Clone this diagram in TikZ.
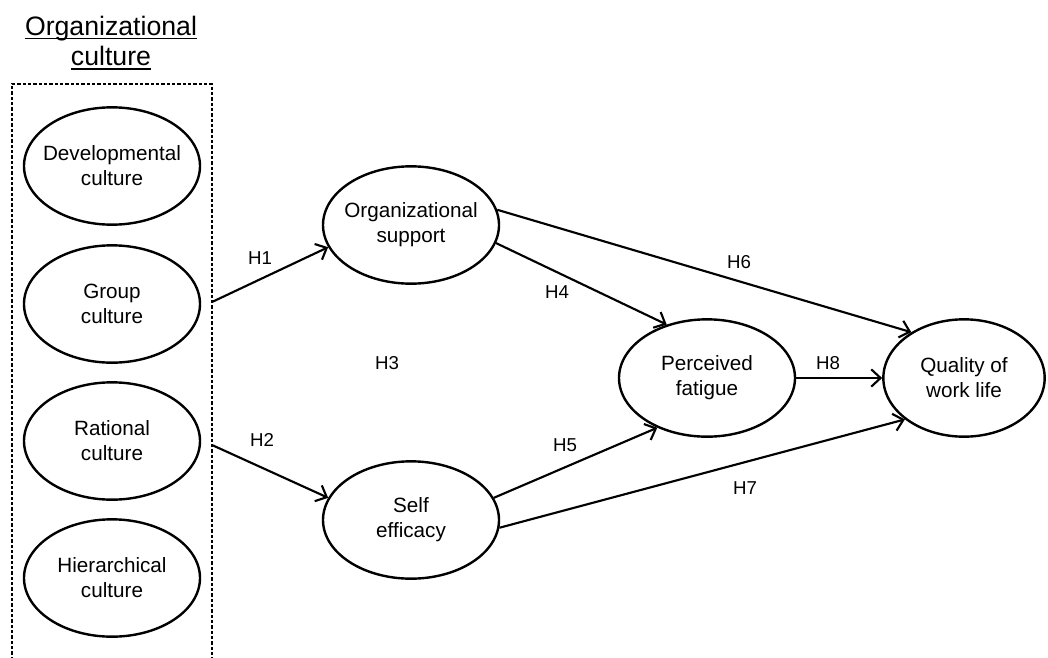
\documentclass[tikz,border=0pt]{standalone}
\usepackage{fontspec}
\setmainfont{Liberation Sans}
\usepackage{tikz}
\usetikzlibrary{shapes.geometric,arrows.meta,calc}
\tikzset{construct/.style={draw,ellipse,line width=1.8pt,inner sep=0pt,inner xsep=-25pt,
    minimum width=132pt,minimum height=88pt,align=center,font=\fontsize{15.5}{18.75}\selectfont},
    hyp/.style={font=\fontsize{14}{16}\selectfont,inner sep=0.75pt},
    heading/.style={font=\fontsize{20}{24}\selectfont,inner sep=0pt,anchor=base},
    path/.style={line width=1.6pt,-{Straight Barb[length=7pt,width=13pt,line width=1.6pt]}}}

\begin{document}
\begin{tikzpicture}[x=0.75pt,y=0.75pt,yscale=-1,xscale=1]
\useasboundingbox (0,0) rectangle (1048,657);

% Title
\node (title1) at (111,35) [heading] {Organizational};
\node (title2) at (111,65) [heading] {culture};
\draw [line width=1.3pt] ($(title1.base west)+(0,3.5)$) -- ($(title1.base east)+(0,3.5)$) ;
\draw [line width=1.3pt] ($(title2.base west)+(0,4)$) -- ($(title2.base east)+(0,4)$) ;
%Dashed box (runs past the bottom)
\draw [line width=1.6pt,dash pattern={on 2.4pt off 1.6pt}] (12,660) -- (12,84) -- (212,84) -- (212,660) ;

% Culture types
\node (dev) at (112,166) [construct] {Developmental\\culture};
\node (grp) at (112,304) [construct] {Group\\culture};
\node (rat) at (112,441) [construct] {Rational\\culture};
\node (hie) at (112,578) [construct] {Hierarchical\\culture};

% Mediators and outcome
\node (orgsup) at (411,225) [construct] {Organizational\\support};
\node (selfeff) at (411,520) [construct] {Self\\efficacy};
\node (fatigue) at (707,378) [construct] {Perceived\\fatigue};
\node (qwl) at (964,378) [construct,minimum width=121pt] {Quality of\\work life};

\coordinate (boxout1) at (212,302);
\coordinate (boxout2) at (212,445);

% Paths
\draw [path] (boxout1) -- (orgsup.195) ;
\draw [path] (boxout2) -- (selfeff.165) ;
\draw [path] (orgsup.348) -- (fatigue.127) ;
\draw [path] (orgsup.10) -- (qwl.139) ;
\draw [path] (selfeff.15) -- (fatigue.225) ;
\draw [path] (selfeff.355) -- (qwl.215) ;
\draw [path] (fatigue.east) -- (qwl.west) ;

% Text Node
\node (h1) at (260,258) [hyp] {H1};
\node (h2) at (262,440) [hyp] {H2};
\node (h3) at (387,363) [hyp] {H3};
\node (h4) at (557,292) [hyp] {H4};
\node (h5) at (565,445) [hyp] {H5};
\node (h6) at (739,262) [hyp] {H6};
\node (h7) at (745,488) [hyp] {H7};
\node (h8) at (828,363) [hyp] {H8};

\end{tikzpicture}
\end{document}
